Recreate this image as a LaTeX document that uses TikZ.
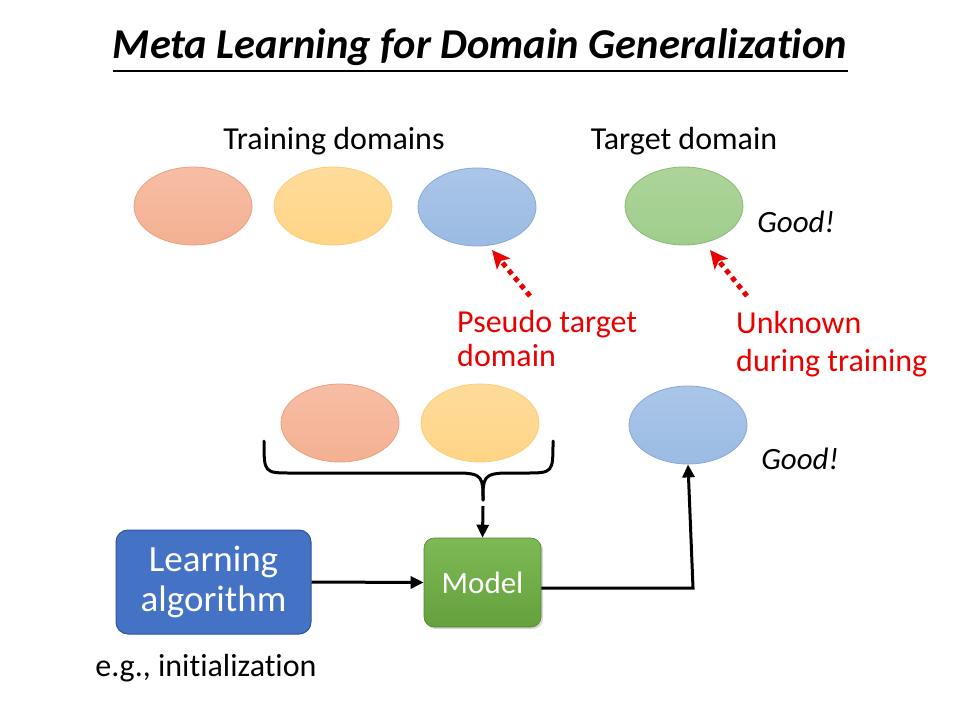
\documentclass[tikz,border=0pt]{standalone}
\usepackage{fontspec}
\setmainfont{Carlito}[Ligatures=NoCommon]
\usetikzlibrary{arrows.meta,shapes.geometric,shadows}
\definecolor{orgF}{RGB}{244,176,146}
\definecolor{orgT}{RGB}{246,190,165}
\definecolor{orgD}{RGB}{236,160,128}
\definecolor{ylwF}{RGB}{255,212,134}
\definecolor{ylwT}{RGB}{255,220,155}
\definecolor{ylwD}{RGB}{252,205,120}
\definecolor{bluF}{RGB}{155,187,227}
\definecolor{bluT}{RGB}{170,198,232}
\definecolor{bluD}{RGB}{135,168,214}
\definecolor{grnF}{RGB}{160,205,140}
\definecolor{grnT}{RGB}{172,212,155}
\definecolor{grnD}{RGB}{135,188,112}
\definecolor{algF}{RGB}{68,114,196}
\definecolor{algD}{RGB}{47,85,151}
\definecolor{modT}{RGB}{125,185,85}
\definecolor{modB}{RGB}{100,160,60}
\definecolor{modD}{RGB}{84,130,53}
\definecolor{redT}{RGB}{235,0,0}
\tikzset{
  dom/.style={ellipse, minimum width=118pt, minimum height=78pt, line width=0.8pt, inner sep=0pt},
  domO/.style={dom, draw=orgD, top color=orgT, bottom color=orgF},
  domY/.style={dom, draw=ylwD, top color=ylwT, bottom color=ylwF},
  domB/.style={dom, draw=bluD, top color=bluT, bottom color=bluF},
  domG/.style={dom, draw=grnD, top color=grnT, bottom color=grnF},
  lbl/.style={font=\fontsize{32}{38}\selectfont, inner sep=0pt},
  good/.style={font=\fontsize{31}{36}\selectfont\itshape, inner sep=0pt},
  reddot/.style={draw=redT, line width=5pt, dash pattern=on 5pt off 4.5pt, -{Stealth[length=18pt,width=17pt,inset=4pt]}},
  blk/.style={line width=3pt, -{Triangle[length=13pt,width=12pt]}},
  brace/.style={line width=3pt, line cap=round},
}
\begin{document}
\begin{tikzpicture}[x=1pt,y=-1pt]
\useasboundingbox (0,0) rectangle (960,720);
% title
\node[inner sep=0pt, font=\fontsize{42.5}{48}\selectfont\bfseries\itshape] (title) at (480,47) {Meta Learning for Domain Generalization};
\draw[line width=1.3pt] (113,71) -- (848,71);
% headings
\node[lbl] (trd) at (334,141) {Training domains};
\node[lbl] (tgd) at (684,141) {Target domain};
% top ellipses
\node[domO] (o1) at (193,206) {};
\node[domY] (y1) at (333,206) {};
\node[domB] (b1) at (477,207) {};
\node[domG] (g1) at (684,206) {};
\node[good] (good1) at (796,222) {Good!};
% red arrows
\coordinate (pt1) at (530,296);
\coordinate (ph1) at (492,250);
\coordinate (pt2) at (747,296);
\coordinate (ph2) at (710,250);
\draw[reddot] (pt1) -- (ph1);
\draw[reddot] (pt2) -- (ph2);
\node[font=\fontsize{32}{34}\selectfont, text=redT, align=left, inner sep=0pt, anchor=north west] (pseudo) at (457,310) {Pseudo target\\domain};
\node[font=\fontsize{32}{38}\selectfont, text=redT, align=left, inner sep=0pt, anchor=north west] (unk) at (736,311) {Unknown\\during training};
% middle ellipses
\node[domO] (o2) at (340,423) {};
\node[domY] (y2) at (480,423) {};
\node[domB] (b2) at (688,425) {};
\node[good] (good2) at (800,459) {Good!};
% brace
\coordinate (btip) at (483,500);
\draw[brace] (264,441) .. controls (264,473) and (264,473) .. (292,473) -- (458,473) .. controls (483,473) and (483,478) .. (btip);
\draw[brace] (553,441) .. controls (553,473) and (553,473) .. (525,473) -- (508,473) .. controls (483,473) and (483,478) .. (btip);
% boxes
\node[draw=algD, fill=algF, line width=1pt, rounded corners=12pt, minimum width=195pt, minimum height=104pt, align=center, text=white, font=\fontsize{37}{40}\selectfont] (alg) at (213.5,582) {Learning\\algorithm};
\node[draw=modD, top color=modT, bottom color=modB, line width=0.6pt, rounded corners=10pt, minimum width=117pt, minimum height=89pt, text=white, font=\fontsize{31}{36}\selectfont, drop shadow={shadow xshift=2pt, shadow yshift=-2pt, opacity=0.3}] (model) at (482.5,582.5) {Model};
\node[lbl] (eg) at (206,668) {e.g., initialization};
% connectors
\coordinate (btail) at (483,506);
\draw[blk] (btail) -- (model.north);
\draw[blk] (alg.east) -- (model.west);
\coordinate (corner) at (693,588);
\draw[blk] (model.east |- corner) -- (corner) -- (b2.south);
\end{tikzpicture}
\end{document}
